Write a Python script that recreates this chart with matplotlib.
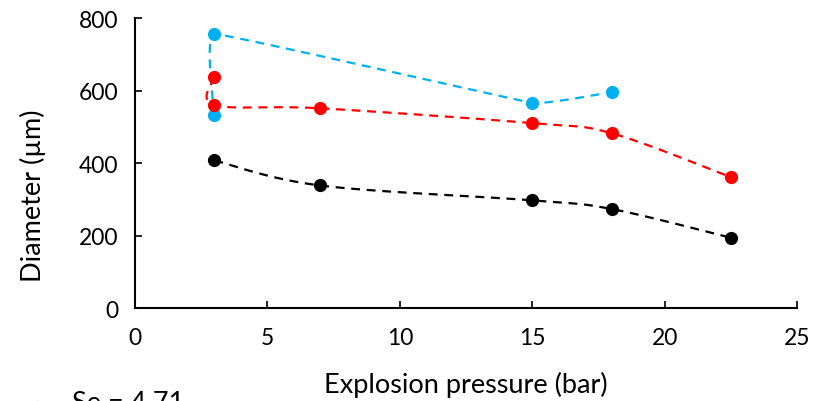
import matplotlib
matplotlib.use("Agg")
import matplotlib.pyplot as plt
import numpy as np

plt.rcParams['font.family'] = ['Lato', 'DejaVu Sans']

# data (x = explosion pressure in bar, y = diameter in um)
black_x = [3, 7, 15, 18, 22.5]
black_y = [407, 338, 297, 273, 194]
red_x = [3, 3, 7, 15, 18, 22.5]
red_y = [637, 560, 551, 510, 482, 361]
blue_x = [3, 3, 15, 18]
blue_y = [533, 756, 566, 596]
legend_label = "Se = 4.71"


def smooth(x, y, n=30, k=6.0):
    # excel style smoothed line (catmull-rom through the points)
    p = np.column_stack([x, y]).astype(float)
    p = np.vstack([p[0], p, p[-1]])
    out = []
    for i in range(1, len(p) - 2):
        p0, p1, p2, p3 = p[i - 1], p[i], p[i + 1], p[i + 2]
        c1 = p1 + (p2 - p0) / k
        c2 = p2 - (p3 - p1) / k
        t = np.linspace(0, 1, n)[:, None]
        seg = (1 - t) ** 3 * p1 + 3 * (1 - t) ** 2 * t * c1 + 3 * (1 - t) * t ** 2 * c2 + t ** 3 * p2
        out.append(seg)
    out = np.vstack(out)
    return out[:, 0], out[:, 1]


fig = plt.figure(figsize=(8.33, 4.02), dpi=100)
ax = fig.add_axes([0.162, 0.2313, 0.795, 0.7214])

# blue one looks almost straight in the original
sx, sy = smooth(blue_x, blue_y, k=30.0)
ax.plot(sx, sy, color="#00B0F0", lw=1.6, dashes=(4, 3))
ax.plot(blue_x, blue_y, "o", color="#00B0F0", ms=9.5, mec="none")

for xs, ys, col in [(red_x, red_y, "#FF0000"), (black_x, black_y, "black")]:
    sx, sy = smooth(xs, ys)
    ax.plot(sx, sy, color=col, lw=1.6, dashes=(4, 3))
    ax.plot(xs, ys, "o", color=col, ms=9.5, mec="none")

ax.set_xlim(0, 25)
ax.set_ylim(0, 800)
ax.set_xticks([0, 5, 10, 15, 20, 25])
ax.set_yticks([0, 200, 400, 600, 800])
ax.spines['top'].set_visible(False)
ax.spines['right'].set_visible(False)
ax.spines['left'].set_linewidth(1.5)
ax.spines['bottom'].set_linewidth(1.5)
ax.tick_params(direction="in", length=5, width=1.2, labelsize=16.5)
ax.tick_params(axis="x", pad=14)
ax.tick_params(axis="y", pad=12)
ax.set_xlabel("Explosion pressure (bar)", fontsize=19.5, labelpad=16)
ax.set_ylabel("Diameter (µm)", fontsize=19.5)
ax.yaxis.set_label_coords(-0.134, 0.39)

# legend row, cut by the bottom edge of the picture
fig.text(37 / 833, -2 / 402, "\u25CF", fontsize=9, color="black", ha="center", va="center")
fig.text(72 / 833, 11 / 402, legend_label, fontsize=19.5, va="top")

fig.savefig("out.png", dpi=100)
